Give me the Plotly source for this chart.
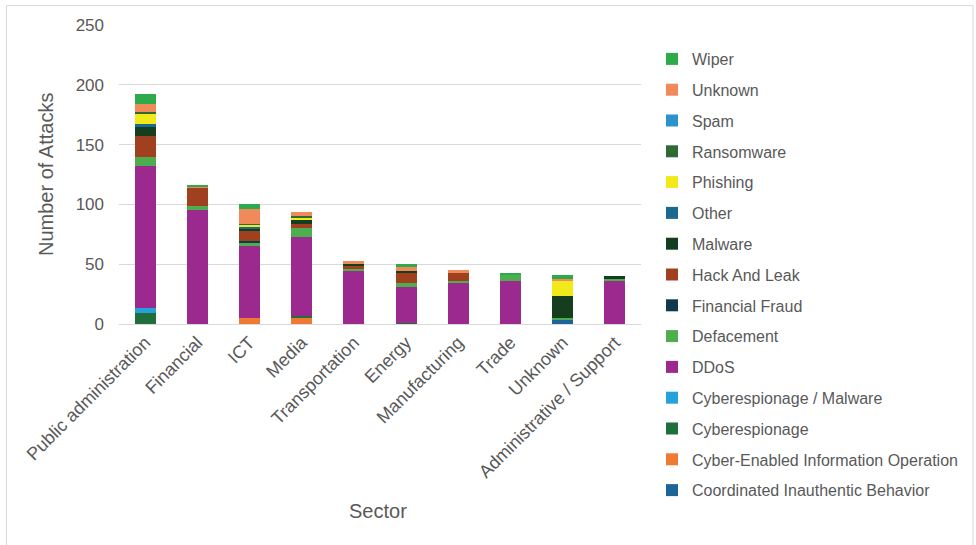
import plotly.graph_objects as go

categories = ["Public administration", "Financial", "ICT", "Media", "Transportation",
              "Energy", "Manufacturing", "Trade", "Unknown", "Administrative / Support"]

# Series listed bottom-of-stack first
cib            = [0, 0, 0, 0, 0, 0, 0, 0, 3, 0]
cyber_info_op  = [0, 0, 5, 5, 0, 0, 0, 0, 0, 0]
cyberespionage = [9, 0, 0, 2, 0, 1, 0, 0, 0, 0]
cyber_malware  = [4, 0, 0, 0, 0, 0, 0, 0, 0, 0]
ddos           = [119, 95, 60, 66, 44, 30, 35, 36, 0, 36]
defacement     = [8, 4, 3, 7, 2, 3, 1, 5, 2, 2]
financial_fraud= [0, 0, 1, 0, 0, 0, 0, 0, 0, 0]
hack_and_leak  = [17, 15, 9, 4, 3, 9, 7, 0, 0, 0]
malware        = [8, 0, 2, 3, 1, 1, 0, 0, 18, 2]
other          = [2, 0, 1, 0, 0, 0, 0, 0, 0, 0]
phishing       = [9, 0, 2, 2, 0, 0, 0, 0, 13, 0]
ransomware     = [1, 0, 1, 1, 0, 0, 0, 0, 0, 0]
spam           = [0, 0, 0, 0, 0, 0, 0, 0, 0, 0]
unknown        = [7, 1, 12, 4, 3, 4, 2, 0, 2, 0]
wiper          = [8, 1, 4, 0, 0, 2, 0, 1, 3, 0]

series = [
    ("Coordinated Inauthentic Behavior", cib, "#1D6596"),
    ("Cyber-Enabled Information Operation", cyber_info_op, "#EE7A33"),
    ("Cyberespionage", cyberespionage, "#1F6E3B"),
    ("Cyberespionage / Malware", cyber_malware, "#26A2DB"),
    ("DDoS", ddos, "#9C2A8E"),
    ("Defacement", defacement, "#4DAE4F"),
    ("Financial Fraud", financial_fraud, "#0F3A4C"),
    ("Hack And Leak", hack_and_leak, "#A0401F"),
    ("Malware", malware, "#153E1F"),
    ("Other", other, "#1B6890"),
    ("Phishing", phishing, "#F2E91B"),
    ("Ransomware", ransomware, "#2F6A35"),
    ("Spam", spam, "#2B92CC"),
    ("Unknown", unknown, "#F08A5B"),
    ("Wiper", wiper, "#2CAA4C"),
]

FONT = "Liberation Sans, Arial, sans-serif"
GRAY = "#595959"

fig = go.Figure()
n = len(series)
for i, (name, vals, color) in enumerate(series):
    fig.add_trace(go.Bar(x=categories, y=vals, name=name, marker_color=color,
                         marker_line_width=0, legendgroup=str(i),
                         legendrank=100 + (n - i)))

L, R, T, B = 119, 335, 25, 221
W, H = 976, 545
pw, ph = W - L - R, H - T - B

def px_x(p):
    return (p - L) / pw

def px_y(p):
    return (H - B - p) / ph

fig.update_layout(
    width=W, height=H,
    margin=dict(l=L, r=R, t=T, b=B),
    barmode="stack", bargap=0.6,
    plot_bgcolor="white", paper_bgcolor="white",
    font=dict(family=FONT, color=GRAY),
    legend=dict(traceorder="grouped", tracegroupgap=7,
                x=px_x(652), y=px_y(42), xanchor="left", yanchor="top",
                font=dict(size=16, color=GRAY, family=FONT),
                itemwidth=30, maxheight=540),
    xaxis=dict(tickangle=-45, tickfont=dict(size=18, color=GRAY),
               showline=True, linecolor="#D9D9D9", linewidth=1, ticks=""),
    yaxis=dict(range=[0, 250], dtick=50, tickfont=dict(size=17, color=GRAY),
               gridcolor="#D9D9D9", gridwidth=1, zeroline=False, ticks="",
               ticklabelstandoff=14),
    annotations=[
        dict(text="Sector", x=px_x(378), y=px_y(511), xref="paper", yref="paper",
             xanchor="center", yanchor="middle",
             showarrow=False, font=dict(size=20, color=GRAY)),
        dict(text="Number of Attacks", x=px_x(46), y=px_y(175), xref="paper", yref="paper",
             xanchor="center", yanchor="middle",
             showarrow=False, textangle=-90, font=dict(size=20, color=GRAY)),
    ],
    shapes=[dict(type="rect", xref="paper", yref="paper",
                 x0=px_x(6.5), x1=px_x(973), y0=px_y(548), y1=px_y(5.5),
                 line=dict(color="#D9D9D9", width=1), fillcolor="rgba(0,0,0,0)")],
)

fig.write_html("out.html")
